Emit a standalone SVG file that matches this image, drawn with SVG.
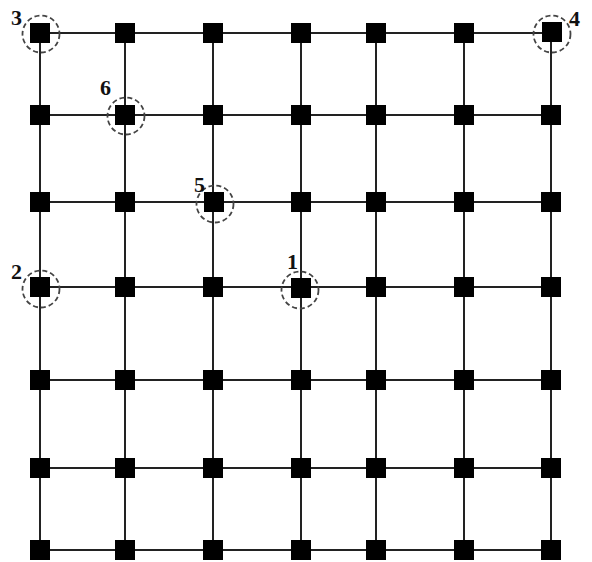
<svg xmlns="http://www.w3.org/2000/svg" width="592" height="562" viewBox="0 0 592 562">
<style>
.ln{stroke:#222;stroke-width:2;fill:none}
.nd{fill:#000}
.ring{fill:none;stroke:#444;stroke-width:1.8;stroke-dasharray:5 3}
.lb{font-family:"Liberation Serif",serif;font-weight:bold;font-size:22px;fill:#111}
</style>
<defs>
<rect id="sq" x="-10" y="-10" width="20" height="20"/>
</defs>
<rect width="592" height="562" fill="#fff"/>
<g id="connectors" class="ln">
<line x1="40" y1="33" x2="551" y2="33"/>
<line x1="40" y1="115" x2="551" y2="115"/>
<line x1="40" y1="202" x2="551" y2="202"/>
<line x1="40" y1="287" x2="551" y2="287"/>
<line x1="40" y1="380" x2="551" y2="380"/>
<line x1="40" y1="468" x2="551" y2="468"/>
<line x1="40" y1="550" x2="551" y2="550"/>
<line x1="40" y1="33" x2="40" y2="550"/>
<line x1="125" y1="33" x2="125" y2="550"/>
<line x1="213" y1="33" x2="213" y2="550"/>
<line x1="301" y1="33" x2="301" y2="550"/>
<line x1="376" y1="33" x2="376" y2="550"/>
<line x1="464" y1="33" x2="464" y2="550"/>
<line x1="551" y1="33" x2="551" y2="550"/>
</g>
<g id="nodes" class="nd">
<g id="n-r0"><use href="#sq" x="40" y="33"/><use href="#sq" x="125" y="33"/><use href="#sq" x="213" y="33"/><use href="#sq" x="301" y="33"/><use href="#sq" x="376" y="33"/><use href="#sq" x="464" y="33"/><use href="#sq" x="552" y="32"/></g>
<g id="n-r1"><use href="#sq" x="40" y="115"/><use href="#sq" x="125" y="115"/><use href="#sq" x="213" y="115"/><use href="#sq" x="301" y="115"/><use href="#sq" x="376" y="115"/><use href="#sq" x="464" y="115"/><use href="#sq" x="551" y="115"/></g>
<g id="n-r2"><use href="#sq" x="40" y="202"/><use href="#sq" x="125" y="202"/><use href="#sq" x="214" y="202"/><use href="#sq" x="301" y="202"/><use href="#sq" x="376" y="202"/><use href="#sq" x="464" y="202"/><use href="#sq" x="551" y="202"/></g>
<g id="n-r3"><use href="#sq" x="40" y="287"/><use href="#sq" x="125" y="287"/><use href="#sq" x="213" y="287"/><use href="#sq" x="301" y="288"/><use href="#sq" x="376" y="287"/><use href="#sq" x="464" y="287"/><use href="#sq" x="551" y="287"/></g>
<g id="n-r4"><use href="#sq" x="40" y="380"/><use href="#sq" x="125" y="380"/><use href="#sq" x="213" y="380"/><use href="#sq" x="301" y="380"/><use href="#sq" x="376" y="380"/><use href="#sq" x="464" y="380"/><use href="#sq" x="551" y="380"/></g>
<g id="n-r5"><use href="#sq" x="40" y="468"/><use href="#sq" x="125" y="468"/><use href="#sq" x="213" y="468"/><use href="#sq" x="301" y="468"/><use href="#sq" x="376" y="468"/><use href="#sq" x="464" y="468"/><use href="#sq" x="551" y="468"/></g>
<g id="n-r6"><use href="#sq" x="40" y="550"/><use href="#sq" x="125" y="550"/><use href="#sq" x="213" y="550"/><use href="#sq" x="301" y="550"/><use href="#sq" x="376" y="550"/><use href="#sq" x="464" y="550"/><use href="#sq" x="551" y="550"/></g>
</g>
<g id="marked">
<g id="m3"><circle class="ring" cx="41" cy="34" r="18.5"/><text class="lb" x="11" y="25">3</text></g>
<g id="m4"><circle class="ring" cx="552" cy="34" r="18.5"/><text class="lb" x="569" y="26">4</text></g>
<g id="m6"><circle class="ring" cx="126" cy="116" r="18.5"/><text class="lb" x="100" y="95">6</text></g>
<g id="m5"><circle class="ring" cx="215" cy="204" r="18.5"/><text class="lb" x="194" y="192">5</text></g>
<g id="m2"><circle class="ring" cx="41" cy="289" r="18.5"/><text class="lb" x="11" y="279">2</text></g>
<g id="m1"><circle class="ring" cx="300" cy="290" r="18.5"/><text class="lb" x="287" y="269">1</text></g>
</g>
</svg>
